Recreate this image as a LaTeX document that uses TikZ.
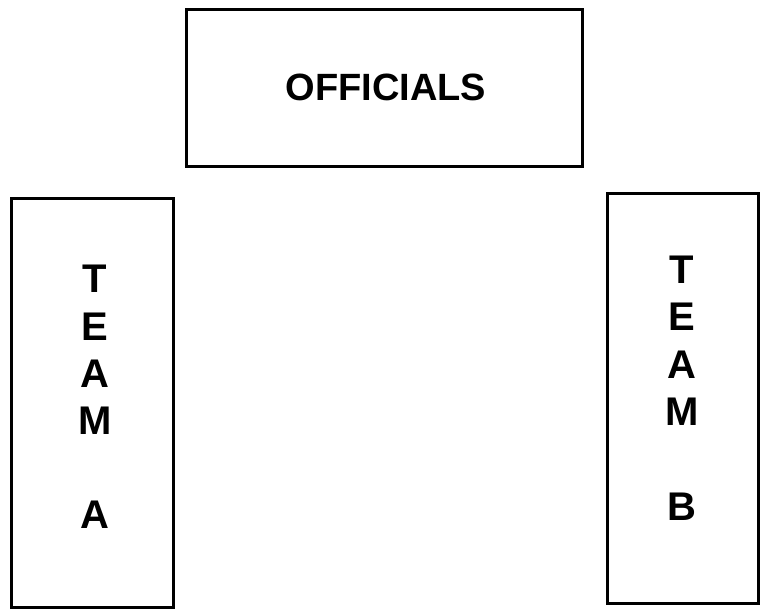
\documentclass[tikz,border=0pt]{standalone}
\usepackage{fontspec}
\setmainfont{Liberation Sans}
\begin{document}
\begin{tikzpicture}[x=1pt,y=-1pt,
  box/.style={draw=black, line width=3pt, fill=white, inner sep=0pt, outer sep=0pt},
  ltr/.style={font=\bfseries\fontsize{40}{40}\selectfont, anchor=base, inner sep=0pt},
  title/.style={font=\bfseries\fontsize{38}{38}\selectfont, anchor=base, inner sep=0pt}]
\useasboundingbox[fill=white] (0,0) rectangle (760,610);
\node[box, minimum width=396pt, minimum height=156.5pt] (off) at (384,87.75) {};
\node[box, minimum width=162pt, minimum height=409pt] (teamA) at (92,402.5) {};
\node[box, minimum width=151pt, minimum height=410pt] (teamB) at (682.5,398) {};
\node[title] (offt) at (386,100) {OFFICIALS};
\node[ltr] (a1) at (95,292) {T};
\node[ltr] (a2) at (95,340) {E};
\node[ltr] (a3) at (95,387) {A};
\node[ltr] (a4) at (95,434) {M};
\node[ltr] (a5) at (95,528) {A};
\node[ltr] (b1) at (682,283) {T};
\node[ltr] (b2) at (682,330) {E};
\node[ltr] (b3) at (682,378) {A};
\node[ltr] (b4) at (682,425) {M};
\node[ltr] (b5) at (682,520) {B};
\end{tikzpicture}
\end{document}
